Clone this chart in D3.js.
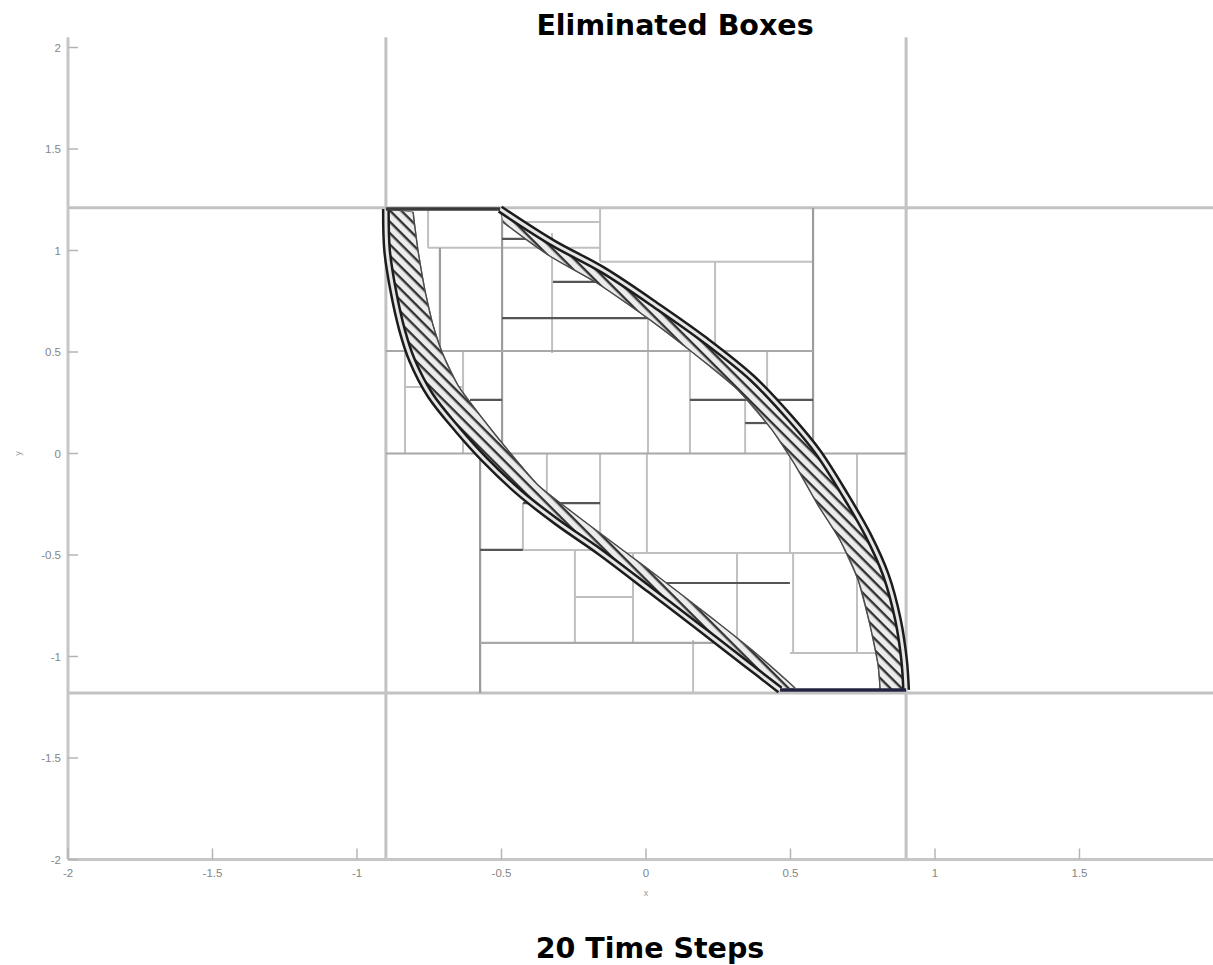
<!DOCTYPE html>
<html lang="en">
<head>
    <meta charset="UTF-8">
    <title>Eliminated Boxes</title>
    <style>
        body { margin: 0; background: #fff; }
        svg { display: block; }
    </style>
</head>
<body>
    <div id="chart"></div>

    <script src="https://d3js.org/d3.v7.min.js"></script>
    <script>
        // axis ticks
        var xTicks = [-2, -1.5, -1, -0.5, 0, 0.5, 1, 1.5];
        var yTicks = [-2, -1.5, -1, -0.5, 0, 0.5, 1, 1.5, 2];

        // first level splits of the [-2,2] x [-2,2] domain
        var firstSplitsX = [-0.9, 0.9];
        var firstSplitsY = [1.21, -1.18];

        // inner box edges, vertical: [x, y0, y1]
        var vMid = [
            [-0.498, 1.21, 0], [-0.713, 1.013, 0.495], [-0.574, 0, -1.18], [0.578, 1.21, 0]
        ];
        var vLight = [
            [-0.754, 1.20, 1.013], [-0.325, 1.086, 0.495], [-0.159, 1.21, 0.945], [0.007, 0.667, 0],
            [0.239, 0.945, 0.505], [0.152, 0.505, 0], [0.419, 0.505, 0.264], [0.343, 0.264, 0],
            [-0.834, 0.608, 0], [-0.633, 0.505, 0], [-0.426, -0.244, -0.475], [-0.343, 0, -0.244],
            [-0.159, 0, -0.49], [0.003, 0, -0.49], [-0.246, -0.475, -0.933], [-0.045, -0.49, -0.933],
            [0.498, 0, -0.49], [0.315, -0.49, -0.983], [0.509, -0.49, -0.983], [0.163, -0.919, -1.18],
            [0.73, 0, -0.983]
        ];
        // inner box edges, horizontal: [y, x0, x1]
        var hMid = [
            [0, -0.9, 0.9], [0.505, -0.9, 0.578], [-0.933, -0.574, 0.325]
        ];
        var hLight = [
            [1.013, -0.754, -0.159], [0.945, -0.159, 0.578], [1.14, -0.495, -0.159], [0.328, -0.834, -0.633],
            [-0.475, -0.426, -0.159], [-0.49, -0.159, 0.73], [-0.707, -0.246, -0.045], [-0.983, 0.498, 0.872]
        ];
        var hDark = [
            [0.667, -0.498, 0.014], [1.057, -0.498, -0.322], [0.845, -0.322, -0.149], [0.264, 0.152, 0.578],
            [0.150, 0.343, 0.439], [0.264, -0.609, -0.498], [-0.244, -0.426, -0.159], [-0.638, -0.021, 0.498],
            [-0.475, -0.574, -0.426]
        ];

        // boundary of the remaining set: outer edges and the inner edge of the small boxes
        var rightOuter = [
            [-0.505, 1.204], [-0.322, 1.037], [-0.149, 0.904], [0.048, 0.717], [0.204, 0.559],
            [0.367, 0.372], [0.498, 0.175], [0.595, 0.007], [0.689, -0.204], [0.768, -0.401],
            [0.830, -0.599], [0.872, -0.820], [0.893, -1.017], [0.90, -1.165]
        ];
        var rightInner = [
            [-0.495, 1.140], [-0.339, 0.978], [-0.170, 0.840], [0.014, 0.658], [0.159, 0.500],
            [0.318, 0.313], [0.436, 0.116], [0.516, -0.057], [0.595, -0.254], [0.671, -0.426],
            [0.734, -0.623], [0.775, -0.845], [0.803, -1.042], [0.810, -1.165]
        ];
        var leftOuter = [
            [-0.90, 1.204], [-0.896, 1.002], [-0.875, 0.805], [-0.844, 0.608], [-0.810, 0.461],
            [-0.747, 0.288], [-0.651, 0.116], [-0.557, -0.032], [-0.436, -0.195], [-0.308, -0.337],
            [-0.159, -0.485], [0.014, -0.672], [0.187, -0.860], [0.343, -1.032], [0.464, -1.165]
        ];
        var leftInner = [
            [-0.806, 1.190], [-0.789, 1.002], [-0.765, 0.805], [-0.737, 0.633], [-0.706, 0.500],
            [-0.651, 0.337], [-0.567, 0.175], [-0.478, 0.017], [-0.374, -0.155], [-0.256, -0.288],
            [-0.118, -0.436], [0.048, -0.613], [0.215, -0.796], [0.367, -0.968], [0.516, -1.155]
        ];
        var topEdge = [[-0.90, 1.204], [-0.505, 1.204]];
        var bottomEdge = [[0.464, -1.165], [0.90, -1.165]];

        var yTop = 2.05;

        var width = 1213, height = 965;

        var svg = d3.select("#chart")
            .append("svg")
            .attr("width", width)
            .attr("height", height);

        var x = d3.scaleLinear().domain([-2, 2]).range([68, 1224]);
        var y = d3.scaleLinear().domain([-2, 2]).range([859.5, 47.5]);

        // hatch pattern for the thin boxes along the boundary
        var defs = svg.append("defs");
        var pat = defs.append("pattern")
            .attr("id", "hatch")
            .attr("patternUnits", "userSpaceOnUse")
            .attr("width", 8)
            .attr("height", 8)
            .attr("patternTransform", "rotate(45)");
        pat.append("rect").attr("width", 8).attr("height", 8).attr("fill", "#ececec");
        pat.append("rect").attr("width", 8).attr("height", 2.4).attr("fill", "#333");

        var plot = svg.append("g");

        // first level boxes
        plot.selectAll(".splitX")
            .data(firstSplitsX)
            .enter().append("line")
            .attr("x1", function(d) { return x(d); })
            .attr("x2", function(d) { return x(d); })
            .attr("y1", y(yTop))
            .attr("y2", y(-2))
            .style("stroke", "#c2c2c2")
            .style("stroke-width", 3);

        plot.selectAll(".splitY")
            .data(firstSplitsY)
            .enter().append("line")
            .attr("x1", x(-2))
            .attr("x2", width)
            .attr("y1", function(d) { return y(d); })
            .attr("y2", function(d) { return y(d); })
            .style("stroke", "#c2c2c2")
            .style("stroke-width", 3);

        function drawV(data, color, w) {
            plot.append("g").selectAll("line")
                .data(data)
                .enter().append("line")
                .attr("x1", function(d) { return x(d[0]); })
                .attr("x2", function(d) { return x(d[0]); })
                .attr("y1", function(d) { return y(d[1]); })
                .attr("y2", function(d) { return y(d[2]); })
                .style("stroke", color)
                .style("stroke-width", w);
        }
        function drawH(data, color, w) {
            plot.append("g").selectAll("line")
                .data(data)
                .enter().append("line")
                .attr("y1", function(d) { return y(d[0]); })
                .attr("y2", function(d) { return y(d[0]); })
                .attr("x1", function(d) { return x(d[1]); })
                .attr("x2", function(d) { return x(d[2]); })
                .style("stroke", color)
                .style("stroke-width", w);
        }

        drawV(vLight, "#c0c0c0", 2);
        drawH(hLight, "#c0c0c0", 2);
        drawV(vMid, "#9c9c9c", 2.2);
        drawH(hMid, "#a8a8a8", 2.2);
        drawH(hDark, "#555", 2.2);

        var line = d3.line()
            .x(function(d) { return x(d[0]); })
            .y(function(d) { return y(d[1]); });
        var smooth = d3.line()
            .x(function(d) { return x(d[0]); })
            .y(function(d) { return y(d[1]); })
            .curve(d3.curveCatmullRom);

        // small boxes hugging the boundary
        [[rightOuter, rightInner], [leftOuter, leftInner]].forEach(function(pair) {
            var poly = pair[0].concat(pair[1].slice().reverse());
            plot.append("path")
                .attr("d", line(poly) + "Z")
                .style("fill", "url(#hatch)")
                .style("stroke", "#777")
                .style("stroke-width", 1);
            plot.append("path")
                .attr("d", smooth(pair[1]))
                .style("fill", "none")
                .style("stroke", "#4a4a4a")
                .style("stroke-width", 1.4);
        });

        // boundary drawn as a double line
        [rightOuter, leftOuter].forEach(function(c) {
            plot.append("path")
                .attr("d", smooth(c))
                .style("fill", "none")
                .style("stroke", "#1c1c1c")
                .style("stroke-width", 8);
            plot.append("path")
                .attr("d", smooth(c))
                .style("fill", "none")
                .style("stroke", "#e6e6e6")
                .style("stroke-width", 3);
        });

        plot.append("path")
            .attr("d", line(topEdge))
            .style("stroke", "#3a3a3a")
            .style("stroke-width", 3.5);
        plot.append("path")
            .attr("d", line(bottomEdge))
            .style("stroke", "#232340")
            .style("stroke-width", 3.5);

        // axes
        var axisColor = "#c6c6c6";
        svg.append("line")
            .attr("x1", x(-2)).attr("x2", x(-2))
            .attr("y1", y(yTop)).attr("y2", y(-2))
            .style("stroke", axisColor).style("stroke-width", 3);
        svg.append("line")
            .attr("x1", x(-2)).attr("x2", width)
            .attr("y1", y(-2)).attr("y2", y(-2))
            .style("stroke", axisColor).style("stroke-width", 3);

        svg.selectAll(".ytick")
            .data(yTicks)
            .enter().append("line")
            .attr("x1", x(-2)).attr("x2", x(-2) + 10)
            .attr("y1", function(d) { return y(d); })
            .attr("y2", function(d) { return y(d); })
            .style("stroke", "#b4b4b4").style("stroke-width", 1.5);

        svg.selectAll(".ylab")
            .data(yTicks)
            .enter().append("text")
            .attr("x", x(-2) - 7)
            .attr("y", function(d) { return y(d) + 4; })
            .attr("text-anchor", "end")
            .style("font-family", "'Liberation Sans', Arial, sans-serif")
            .style("font-size", "11.5px")
            .style("fill", "#858585")
            .text(function(d) { return d; });

        svg.selectAll(".xtick")
            .data(xTicks)
            .enter().append("line")
            .attr("x1", function(d) { return x(d); })
            .attr("x2", function(d) { return x(d); })
            .attr("y1", y(-2) - 11).attr("y2", y(-2))
            .style("stroke", "#b4b4b4").style("stroke-width", 1.5);

        svg.selectAll(".xlab")
            .data(xTicks)
            .enter().append("text")
            .attr("x", function(d) { return x(d); })
            .attr("y", y(-2) + 17)
            .attr("text-anchor", "middle")
            .style("font-family", "'Liberation Sans', Arial, sans-serif")
            .style("font-size", "11.5px")
            .style("fill", "#858585")
            .text(function(d) { return d; });

        // tiny axis labels
        svg.append("text")
            .attr("x", x(0))
            .attr("y", y(-2) + 36)
            .attr("text-anchor", "middle")
            .style("font-family", "'Liberation Sans', Arial, sans-serif")
            .style("font-size", "9px")
            .style("fill", "#9a9a9a")
            .text("x");
        svg.append("text")
            .attr("transform", "translate(21," + y(0) + ") rotate(-90)")
            .attr("text-anchor", "middle")
            .style("font-family", "'Liberation Sans', Arial, sans-serif")
            .style("font-size", "9px")
            .style("fill", "#9a9a9a")
            .text("y");

        // titles
        svg.append("text")
            .attr("x", 675)
            .attr("y", 35)
            .attr("text-anchor", "middle")
            .style("font-family", "'DejaVu Sans', Verdana, sans-serif")
            .style("font-weight", "bold")
            .style("font-size", "28.5px")
            .style("fill", "#000")
            .text("Eliminated Boxes");

        svg.append("text")
            .attr("x", 650)
            .attr("y", 958)
            .attr("text-anchor", "middle")
            .style("font-family", "'DejaVu Sans', Verdana, sans-serif")
            .style("font-weight", "bold")
            .style("font-size", "28.5px")
            .style("fill", "#000")
            .text("20 Time Steps");
    </script>
</body>
</html>
